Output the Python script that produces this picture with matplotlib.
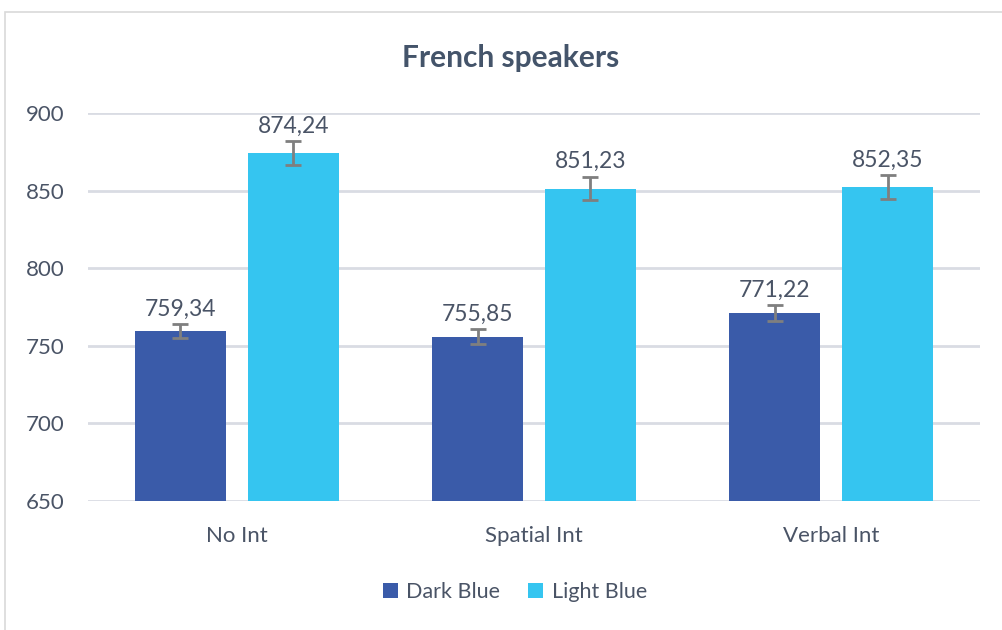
import numpy as np
import matplotlib.pyplot as plt
from matplotlib.patches import Rectangle

plt.rcParams['font.family'] = ['Lato', 'DejaVu Sans']

categories = ["No Int", "Spatial Int", "Verbal Int"]
dark_vals = [759.34, 755.85, 771.22]
light_vals = [874.24, 851.23, 852.35]
dark_err = [4.5, 4.8, 5.0]
light_err = [7.5, 7.6, 7.7]
series_names = ["Dark Blue", "Light Blue"]

dark_col = "#3A5BA9"
light_col = "#35C5F0"
txt_col = "#4A5466"

fig = plt.figure(figsize=(10.02, 6.30), dpi=100)
ax = fig.add_axes([88/1002, 1 - 501/630, (980-88)/1002, (501-113)/630])

x = np.arange(len(categories))
w = 0.305
off = 0.19
ax.bar(x - off, dark_vals, w, color=dark_col, label=series_names[0], zorder=3)
ax.bar(x + off, light_vals, w, color=light_col, label=series_names[1], zorder=3)
ax.errorbar(x - off, dark_vals, yerr=dark_err, fmt="none", ecolor="#7F7F7F",
            elinewidth=2, capsize=6, capthick=2, zorder=4)
ax.errorbar(x + off, light_vals, yerr=light_err, fmt="none", ecolor="#7F7F7F",
            elinewidth=2, capsize=6, capthick=2, zorder=4)

for xi, v, e in zip(x - off, dark_vals, dark_err):
    ax.text(xi, v + e + 3, f"{v:.2f}".replace(".", ","), ha="center", va="bottom",
            fontsize=16.5, color=txt_col)
for xi, v, e in zip(x + off, light_vals, light_err):
    ax.text(xi, v + e + 3, f"{v:.2f}".replace(".", ","), ha="center", va="bottom",
            fontsize=16.5, color=txt_col)

ax.set_xlim(-0.5, 2.5)
ax.set_ylim(650, 900)
ax.set_yticks([650, 700, 750, 800, 850, 900])
ax.set_xticks(x)
ax.set_xticklabels(categories)
ax.tick_params(axis="both", length=0, labelsize=16, colors=txt_col)
ax.tick_params(axis="x", pad=18)
ax.tick_params(axis="y", pad=17)
ax.grid(axis="y", color="#D9DCE3", linewidth=2, zorder=0)
for s in ax.spines.values():
    s.set_visible(False)

fig.text(511/1002, 1 - 58/630, "French speakers", ha="center", va="center",
         fontsize=21.5, fontweight="bold", color="#44546A")

fig.legend(loc="center", bbox_to_anchor=(515/1002, 1 - 592/630), ncol=2, frameon=False,
           fontsize=15.5, labelcolor=txt_col, handlelength=0.7, handleheight=0.7,
           handletextpad=0.4, columnspacing=1.3)

fig.add_artist(Rectangle((5/1002, -0.1), 1.1, 1 - 12/630 + 0.1, transform=fig.transFigure,
                         fill=False, edgecolor="#D9D9D9", linewidth=1.2))

fig.savefig("out.png", dpi=100)
